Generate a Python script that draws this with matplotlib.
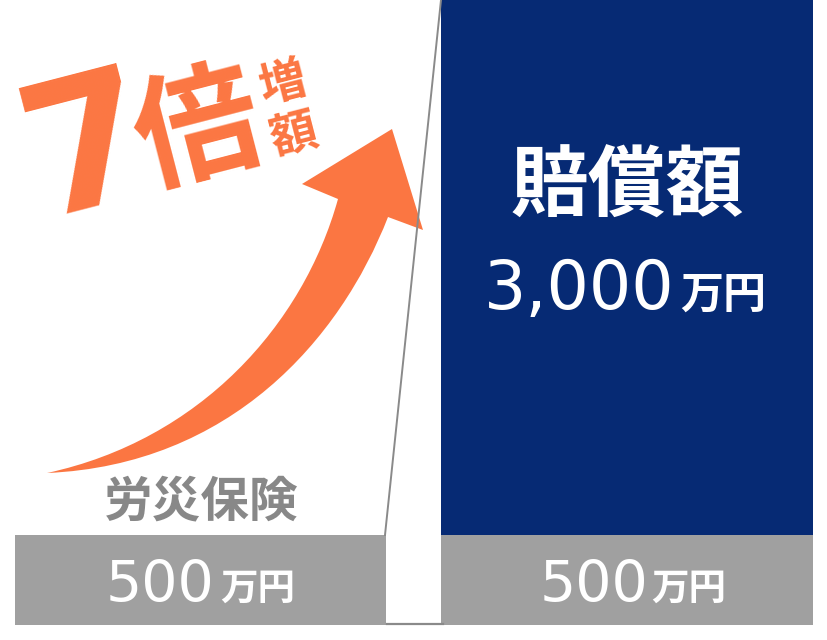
import matplotlib
matplotlib.use("Agg")
import matplotlib.pyplot as plt
import numpy as np
from matplotlib.path import Path
from matplotlib.patches import PathPatch

plt.rcParams['font.family'] = ['Noto Sans CJK JP', 'DejaVu Sans']

# data (万円)
categories = ['労災保険', '賠償額']
base_values = [500, 500]
extra_values = [0, 2500]
base_labels = ['500', '500']
total_label = '3,000'
unit = '万円'

gray = '#a0a0a0'
navy = '#062a74'
orange = '#fb7642'
text_gray = '#888888'

W, H = 828, 640
fig = plt.figure(figsize=(W / 100, H / 100), dpi=100)

# bars
ax = fig.add_axes([0, 15 / H, 1, 625 / H])
p = 1.0816
ax.set_yscale('function', functions=(lambda y: np.sign(y) * np.abs(y) ** p,
                                     lambda y: np.sign(y) * np.abs(y) ** (1 / p)))
x = np.arange(len(categories))
ax.bar(x, base_values, width=0.871, color=gray)
ax.bar(x, extra_values, bottom=base_values, width=0.871, color=navy)
ax.set_xlim(-0.470, 1.471)
ax.set_ylim(0, 3000)
ax.axis('off')

# overlay in pixel coords for annotations
ov = fig.add_axes([0, 0, 1, 1], zorder=3)
ov.set_xlim(0, W)
ov.set_ylim(H, 0)
ov.axis('off')
ov.patch.set_alpha(0)

# thin projection line and gap line
ov.plot([385, 441], [535, 0], color='#8a8a8a', lw=1.4)
ov.plot([387, 443], [623.5, 623.5], color='#8a8a8a', lw=1.6)

# curved arrow
verts = [(47, 473), (200, 440), (303, 325), (338, 199),
         (302, 184), (392, 129), (423, 230), (388, 217),
         (340, 340), (230, 465), (47, 473), (47, 473)]
codes = [Path.MOVETO, Path.CURVE4, Path.CURVE4, Path.CURVE4,
         Path.LINETO, Path.LINETO, Path.LINETO, Path.LINETO,
         Path.CURVE4, Path.CURVE4, Path.CURVE4, Path.CLOSEPOLY]
ov.add_patch(PathPatch(Path(verts, codes), facecolor=orange, edgecolor='none'))

# headline
rot = 14.5
ov.text(84, 134, '7', fontsize=132, fontweight='bold', color=orange,
        family=['DejaVu Sans'], rotation=rot, rotation_mode='anchor',
        ha='center', va='center_baseline')
ov.text(199, 132, '倍', fontsize=90, fontweight='bold', color=orange,
        rotation=rot, rotation_mode='anchor', ha='center', va='center')
ov.text(283, 84, '増', fontsize=34, fontweight='bold', color=orange,
        rotation=rot, rotation_mode='anchor', ha='center', va='center')
ov.text(294, 135, '額', fontsize=34, fontweight='bold', color=orange,
        rotation=rot, rotation_mode='anchor', ha='center', va='center')

# category labels
ov.text(201, 502, categories[0], fontsize=35, fontweight='bold', color=text_gray,
        ha='center', va='center')
ov.text(627, 188, categories[1], fontsize=56, fontweight='bold', color='white',
        ha='center', va='center')

# value labels
num_font = ['DejaVu Sans']
ov.text(214, 602, base_labels[0], fontsize=41, color='white', family=num_font,
        ha='right', va='baseline')
ov.text(220, 600, unit, fontsize=27, fontweight='bold', color='white',
        ha='left', va='baseline')
ov.text(648, 602, base_labels[1], fontsize=41, color='white', family=num_font,
        ha='right', va='baseline')
ov.text(651, 600, unit, fontsize=27, fontweight='bold', color='white',
        ha='left', va='baseline')
ov.text(675, 309, total_label, fontsize=48, color='white', family=num_font,
        ha='right', va='baseline')
ov.text(680, 308, unit, fontsize=31, fontweight='bold', color='white',
        ha='left', va='baseline')

fig.savefig('out.png', dpi=100)
